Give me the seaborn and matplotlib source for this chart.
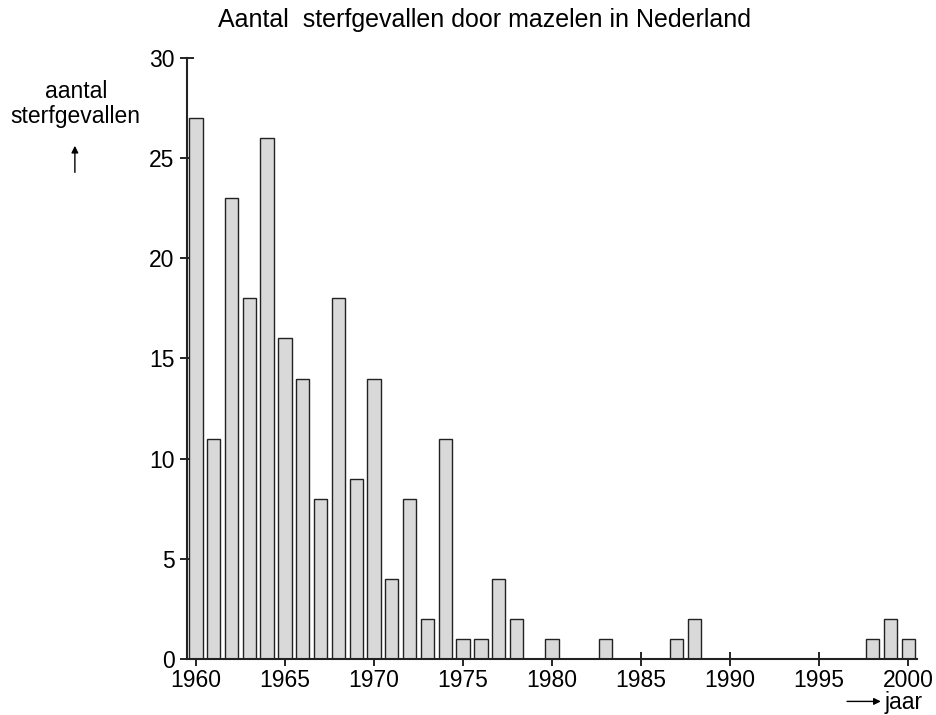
import matplotlib
matplotlib.use("Agg")
import matplotlib.pyplot as plt
import seaborn as sns
import pandas as pd

years = list(range(1960, 2001))
deaths = [27, 11, 23, 18, 26, 16, 14, 8, 18, 9,
          14, 4, 8, 2, 11, 1, 1, 4, 2, 0,
          1, 0, 0, 1, 0, 0, 0, 1, 2, 0,
          0, 0, 0, 0, 0, 0, 0, 0, 1, 2,
          1]
xticks = [1960, 1965, 1970, 1975, 1980, 1985, 1990, 1995, 2000]
yticks = [0, 5, 10, 15, 20, 25, 30]

sns.set_style("ticks")
plt.rcParams["font.family"] = ["Liberation Sans", "DejaVu Sans"]
plt.rcParams["text.color"] = "black"

df = pd.DataFrame({"jaar": years, "aantal": deaths})

fig = plt.figure(figsize=(9.36, 7.15), dpi=100)
ax = fig.add_axes([0.1998, 0.0783, 0.78, 0.8407])

sns.barplot(data=df, x="jaar", y="aantal", native_scale=True, width=0.75,
            color="#d9d9d9", edgecolor="#222222", linewidth=1.0,
            saturation=1, ax=ax)
# zero-height bars show as grey dashes
for p in ax.patches:
    if p.get_height() == 0:
        p.set_edgecolor("#999999")

ax.set_xlim(1959.5, 2000.5)
ax.set_ylim(0, 30)
ax.set_xticks(xticks)
ax.set_yticks(yticks)
ax.tick_params(axis="both", direction="inout", length=10, width=1.2,
               labelsize=16.5, colors="black")
ax.tick_params(axis="x", pad=2)
ax.tick_params(axis="y", pad=4)
ax.set_xlabel("")
ax.set_ylabel("")
sns.despine(ax=ax)
for s in ["left", "bottom"]:
    ax.spines[s].set_linewidth(1.5)
    ax.spines[s].set_color("#222222")

fig.text(0.518, 0.972, "Aantal  sterfgevallen door mazelen in Nederland",
         ha="center", va="center", fontsize=18)

# y label with arrow
fig.text(0.081, 0.855, "aantal\nsterfgevallen", ha="center", va="center",
         fontsize=16.5, linespacing=1.1)
fig.add_artist(matplotlib.patches.FancyArrowPatch(
    (0.080, 0.755), (0.080, 0.800), transform=fig.transFigure,
    arrowstyle="-|>", mutation_scale=10, color="black", lw=1))

# x label with arrow
fig.text(0.945, 0.018, "jaar", ha="left", va="center", fontsize=16.5)
fig.add_artist(matplotlib.patches.FancyArrowPatch(
    (0.902, 0.019), (0.944, 0.019), transform=fig.transFigure,
    arrowstyle="-|>", mutation_scale=10, color="black", lw=1))

fig.savefig("out.png", dpi=100)
